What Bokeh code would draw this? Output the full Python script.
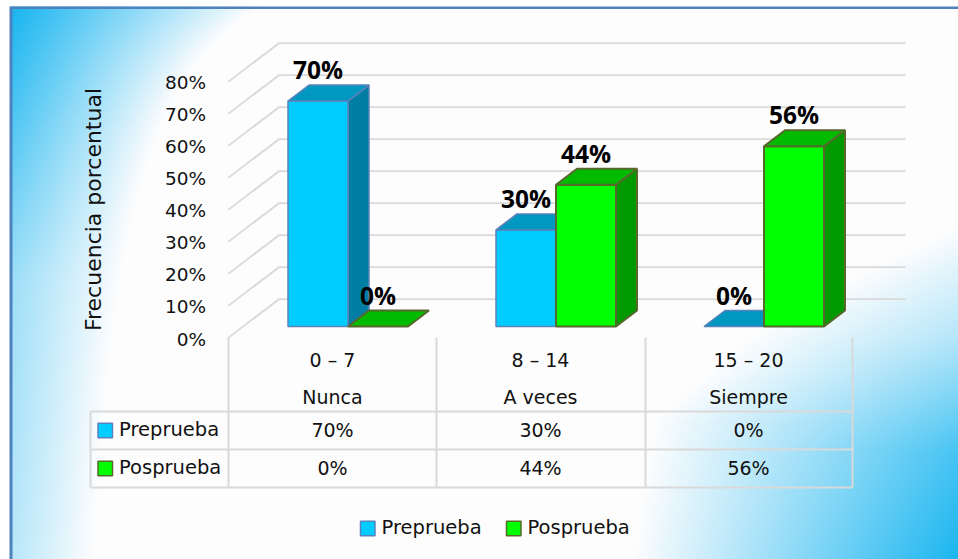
import numpy as np
from bokeh.plotting import figure
from bokeh.models import LinearAxis, Range1d, FixedTicker
from bokeh.core.properties import value
from bokeh.embed import file_html
from bokeh.resources import INLINE

categories = ["Nunca", "A veces", "Siempre"]
ranges = ["0 – 7", "8 – 14", "15 – 20"]
prueba_pre = [70, 30, 0]
prueba_pos = [0, 44, 56]
series_names = ["Preprueba", "Posprueba"]
y_ticks = [0, 10, 20, 30, 40, 50, 60, 70, 80]
axis_title = "Frecuencia porcentual"

W, H = 958, 559
CAT_W = 208.0      # px per category
UNIT = 3.22        # px per percent on the bars
WALL = 3.2         # px per percent on the walls
X0, Y0 = 228.0, 326.0

def px(x):  # page pixel to data x
    return (x - X0) / CAT_W
def py(y):  # page pixel to data y
    return (Y0 - y) / UNIT

p = figure(width=W, height=H, output_backend="svg", toolbar_location=None,
           x_range=Range1d(px(0), px(W)), y_range=Range1d(py(H), py(0)),
           x_axis_location=None, y_axis_location=None, min_border=0,
           outline_line_color=None)
p.grid.visible = False
p.background_fill_color = "white"
p.border_fill_color = "white"

# background gradient
GW, GH = W // 2, H // 2
xs = (np.arange(GW) + 0.5) * 2
ys = (np.arange(GH) + 0.5) * 2
XX, YY = np.meshgrid(xs, ys)
w = 42 + 203 / (1 + (YY - 8) / 130)
a = np.interp(YY, [8, 280, 559], [1.0, 0.42, 0.30])
tl = a * np.clip(1 - (XX - 12) / w, 0, 1)
b = np.interp(YY, [225, 280, 337, 420, 487, 559], [958, 846, 747, 653, 643, 633])
ae = np.interp(YY, [225, 337, 450, 559], [0, 0.32, 0.8, 1.0])
br = ae * np.clip((XX - b) / np.maximum(958 - b, 1), 0, 1)
t = np.clip(np.maximum(tl, br), 0, 1)[..., None]
base = np.array([253, 253, 254.0])
blue = np.array([26, 182, 240.0])
rgb = base * (1 - t) + blue * t
img = np.zeros((GH, GW), dtype=np.uint32)
view = img.view(dtype=np.uint8).reshape((GH, GW, 4))
view[..., :3] = rgb.astype(np.uint8)
view[..., 3] = 255
view[YY < 6] = 255
view[XX < 10] = 255
p.image_rgba(image=[img[::-1]], x=[px(0)], y=[py(H)], dw=[px(W) - px(0)], dh=[py(0) - py(H)])

# frame border
p.quad(left=[px(9), px(9)], right=[px(12), px(W)], bottom=[py(H), py(8.5)], top=[py(8.5), py(6)],
       fill_color="#4f81bd", line_color=None)

# walls
GRID = "#d9d9d9"
back_dy = (Y0 - 298.7) / UNIT
front_dy = (Y0 - 337.4) / UNIT
for v in y_ticks:
    vv = v * WALL / UNIT
    p.line([px(227.7), px(278.5), px(905)], [vv + front_dy, vv + back_dy, vv + back_dy],
           line_color=GRID, line_width=1.8)

# y axis, on the front plane
p.extra_y_ranges = {"front": Range1d((338.5 - H) / 3.204, 338.5 / 3.204)}
yaxis = LinearAxis(y_range_name="front", ticker=FixedTicker(ticks=y_ticks), fixed_location=px(205.5))
yaxis.major_label_overrides = {v: f"{v}%" for v in y_ticks}
yaxis.axis_line_color = None
yaxis.major_tick_line_color = None
yaxis.minor_tick_line_color = None
yaxis.major_tick_in = 0
yaxis.major_tick_out = 0
yaxis.major_label_standoff = 0
yaxis.major_label_text_font = "DejaVu Sans"
yaxis.major_label_text_font_size = "18.5px"
yaxis.major_label_text_color = "#111111"
p.add_layout(yaxis, "left")

p.text([px(93)], [py(209)], text=[axis_title], angle=np.pi / 2, text_align="center", text_baseline="middle",
       text_font=value("DejaVu Sans"), text_font_size="22px", text_color="#111111")

# 3D bars
BAR_W = 60.0 / CAT_W
GROUP = 119.5 / CAT_W
DX = 21.0 / CAT_W
DY = 16.0 / UNIT
styles = [("#00ccff", "#0097c0", "#007da3", "#5b82bb", 1.5), ("#00ff00", "#00bb00", "#009a00", "#56682c", 2.0)]
labels = {"x": [], "y": [], "t": []}
for i in range(len(categories)):
    for s, vals in enumerate([prueba_pre, prueba_pos]):
        v = vals[i]
        x0 = i + GROUP + (s - 1) * BAR_W
        x1 = x0 + BAR_W
        front, top, side, edge, lw = styles[s]
        if v > 0:
            p.patch([x1, x1, x1 + DX, x1 + DX], [0, v, v + DY, DY], fill_color=side, line_color=edge, line_width=lw)
            p.quad(left=[x0], right=[x1], bottom=[0], top=[v], fill_color=front, line_color=edge, line_width=lw)
        p.patch([x0, x1, x1 + DX, x0 + DX], [v, v, v + DY, v + DY], fill_color=top, line_color=edge, line_width=lw)
        labels["x"].append((x0 + x1) / 2)
        labels["y"].append(v + 31.5 / UNIT)
        labels["t"].append(f"{v}%")
p.text(labels["x"], labels["y"], text=labels["t"], text_align="center", text_baseline="middle",
       text_font=value("Open Sans"), text_font_style="bold", text_font_size="24.5px", text_color="black")

# data table lines
TBL = "#d9d9d9"
for xp, (ya, yb) in zip([90, 228, 436, 645, 852], [(411, 487), (337, 487), (337, 487), (337, 487), (337, 487)]):
    p.line([px(xp), px(xp)], [py(ya), py(yb)], line_color=TBL, line_width=2)
for yp in [411, 449, 487]:
    p.line([px(90), px(852)], [py(yp), py(yp)], line_color=TBL, line_width=2)

# category and table texts
cx = [i + 0.5 for i in range(len(categories))]
def row(texts, ypix):
    p.text(cx, [py(ypix)] * len(cx), text=texts, text_align="center", text_baseline="middle",
           text_font=value("DejaVu Sans"), text_font_size="19px", text_color="#111111")
row(ranges, 359)
row(categories, 396)
row([f"{v}%" for v in prueba_pre], 429)
row([f"{v}%" for v in prueba_pos], 467)

# swatches and series names (table and legend)
def key(xp, yp, s):
    p.quad(left=[px(xp)], right=[px(xp + 14.5)], bottom=[py(yp + 7.2)], top=[py(yp - 7.2)],
           fill_color=styles[s][0], line_color=styles[s][3], line_width=1.5)
    p.text([px(xp + 21)], [py(yp - 1)], text=[series_names[s]], text_align="left", text_baseline="middle",
           text_font=value("DejaVu Sans"), text_font_size="19.5px", text_color="#111111")
key(97.5, 430, 0)
key(97.5, 468, 1)
key(360, 528, 0)
key(506, 528, 1)

open("out.html", "w").write(file_html(p, INLINE))
